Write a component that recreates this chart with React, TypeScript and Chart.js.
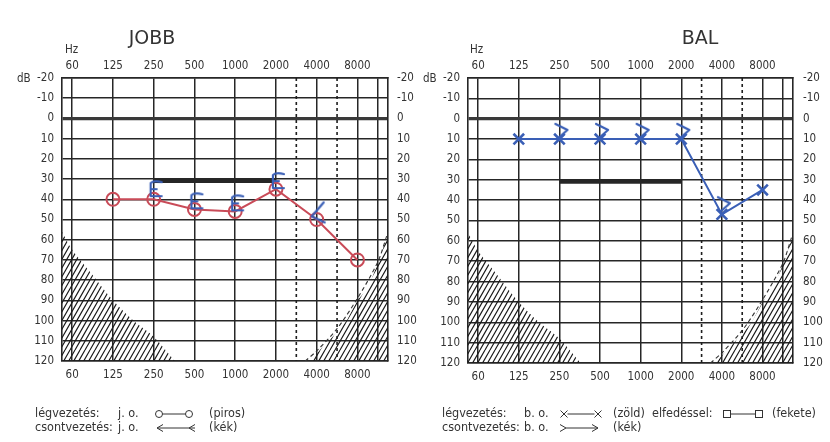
import React, { useEffect, useRef } from 'react';
import { Chart, registerables } from 'chart.js';

Chart.register(...registerables);

// ---------- data ----------
const FREQ_LABELS = ['60', '125', '250', '500', '1000', '2000', '4000', '8000'];
const DB_TICKS = [-20, -10, 0, 10, 20, 30, 40, 50, 60, 70, 80, 90, 100, 110, 120];

// JOBB (right ear)
const JOBB_AIR_FREQ = ['125', '250', '500', '1000', '2000', '4000', '8000'];
const JOBB_AIR_DB = [40, 40, 45, 46, 35, 50, 70];
const JOBB_BONE_FREQ = ['250', '500', '1000', '2000', '4000'];
const JOBB_BONE_DB = [35, 41, 42, 31, 47];

// BAL (left ear)
const BAL_AIR_FREQ = ['125', '250', '500', '1000', '2000', '4000', '8000'];
const BAL_AIR_DB = [10, 10, 10, 10, 10, 47, 35];
const BAL_BONE_FREQ = ['250', '500', '1000', '2000', '4000'];
const BAL_BONE_DB = [6, 6, 6, 6, 42];

// masking level bar
const MASK_FREQ = ['250', '2000'];
const MASK_DB = 31;

// hatched (out-of-range) zones, x in octaves relative to 125 Hz
const HATCH_LOW_OCT = [-1.25, -1, -0.56, 0, 0.5, 1, 1.52];
const HATCH_LOW_DB = [56, 65, 76, 90, 100, 108, 120];
const HATCH_HIGH_OCT = [4.84, 5.15, 5.49, 5.74, 6.0, 6.26, 6.55, 6.75];
const HATCH_HIGH_DB = [120, 113, 106, 100, 90, 84, 69, 57];
const HATCH_EDGE_OCT = [4.72, 5.0, 5.5, 6.0, 6.5, 6.72];
const HATCH_EDGE_DB = [120, 115, 104, 89, 71, 58];

// dotted half-octave lines (3000 Hz, 6000 Hz) and extra grid line
const DOTTED_OCT = [4.5, 5.5];
const EXTRA_GRID_OCT = [6.5];

// ---------- style ----------
const W = 830;
const H = 442;
const FONT = "'DejaVu Sans Condensed', 'DejaVu Sans', sans-serif";
const TITLE_FONT = "'DejaVu Sans', sans-serif";
const TEXT = '#333333';
const GRID = '#262626';
const RED = '#c94b58';
const BLUE = '#3a5fb6';

const octaveOf = (f: string) => FREQ_LABELS.indexOf(f) - 1;
const xLabel = (v: number) => {
  const i = Math.round(v) + 1;
  if (Math.abs(v - Math.round(v)) > 0.01) return '';
  return FREQ_LABELS[i] ?? '';
};

function makeHatch(ctx: CanvasRenderingContext2D) {
  const c = document.createElement('canvas');
  c.width = 40;
  c.height = 70;
  const g = c.getContext('2d')!;
  g.strokeStyle = '#1a1a1a';
  g.lineWidth = 1.15;
  g.beginPath();
  for (let k = -10; k <= 10; k++) {
    g.moveTo(k * 5, 70);
    g.lineTo(k * 5 + 40, 0);
  }
  g.stroke();
  return ctx.createPattern(c, 'repeat')!;
}

function markerCanvas(draw: (g: CanvasRenderingContext2D) => void) {
  const c = document.createElement('canvas');
  c.width = 40;
  c.height = 40;
  const g = c.getContext('2d')!;
  g.translate(20, 20);
  g.strokeStyle = BLUE;
  g.lineWidth = 2.2;
  g.lineCap = 'round';
  g.lineJoin = 'round';
  draw(g);
  return c;
}

const bracketMarker = () =>
  markerCanvas((g) => {
    g.beginPath();
    g.moveTo(8, -7);
    g.quadraticCurveTo(0, -9, -3, -6);
    g.lineTo(-3, 7);
    g.lineTo(8, 7);
    g.moveTo(-3, 0);
    g.lineTo(3, 0);
    g.stroke();
  });

const lessMarker = () =>
  markerCanvas((g) => {
    g.beginPath();
    g.moveTo(7, -11);
    g.lineTo(-5, 3);
    g.lineTo(8, 9);
    g.stroke();
  });

const greaterMarker = () =>
  markerCanvas((g) => {
    g.beginPath();
    g.moveTo(-4, -7);
    g.lineTo(8, -1);
    g.lineTo(-1, 7);
    g.stroke();
  });

interface Panel {
  left: number;
  right: number;
  top: number;
  bottom: number;
  title: string;
  titleX: number;
  hzX: number;
  dbX: number;
  leftPad: number;
  rightPad: number;
  airFreq: string[];
  airDb: number[];
  airColor: string;
  airStyle: string;
  airRadius: number;
  boneFreq: string[];
  boneDb: number[];
  boneStyles: () => HTMLCanvasElement[];
  legend: (ctx: CanvasRenderingContext2D) => void;
}

function setText(ctx: CanvasRenderingContext2D, size: number, family = FONT) {
  ctx.font = `${size}px ${family}`;
  ctx.fillStyle = TEXT;
  ctx.textBaseline = 'middle';
  ctx.textAlign = 'left';
}

function symLine(ctx: CanvasRenderingContext2D, x1: number, x2: number, y: number) {
  ctx.beginPath();
  ctx.moveTo(x1, y);
  ctx.lineTo(x2, y);
  ctx.stroke();
}

function drawX(ctx: CanvasRenderingContext2D, x: number, y: number) {
  ctx.beginPath();
  ctx.moveTo(x - 3.5, y - 3.5);
  ctx.lineTo(x + 3.5, y + 3.5);
  ctx.moveTo(x + 3.5, y - 3.5);
  ctx.lineTo(x - 3.5, y + 3.5);
  ctx.stroke();
}

const LEG_Y1 = 414;
const LEG_Y2 = 428;

function legendJobb(ctx: CanvasRenderingContext2D) {
  setText(ctx, 12.5);
  ctx.strokeStyle = TEXT;
  ctx.lineWidth = 1;
  const y1 = LEG_Y1;
  const y2 = LEG_Y2;
  ctx.fillText('légvezetés:', 35, y1);
  ctx.fillText('j. o.', 118, y1);
  ctx.beginPath();
  ctx.arc(159, y1, 3.5, 0, Math.PI * 2);
  ctx.stroke();
  ctx.beginPath();
  ctx.arc(189, y1, 3.5, 0, Math.PI * 2);
  ctx.stroke();
  symLine(ctx, 162.5, 185.5, y1);
  ctx.fillText('(piros)', 209, y1);

  ctx.fillText('csontvezetés:', 35, y2);
  ctx.fillText('j. o.', 118, y2);
  ctx.beginPath();
  ctx.moveTo(163, y2 - 3.5);
  ctx.lineTo(157, y2);
  ctx.lineTo(163, y2 + 3.5);
  ctx.moveTo(157, y2);
  ctx.lineTo(195, y2);
  ctx.moveTo(195, y2 - 3.5);
  ctx.lineTo(189, y2);
  ctx.lineTo(195, y2 + 3.5);
  ctx.stroke();
  ctx.fillText('(kék)', 209, y2);
}

function legendBal(ctx: CanvasRenderingContext2D) {
  setText(ctx, 12.5);
  ctx.strokeStyle = TEXT;
  ctx.lineWidth = 1;
  const y1 = LEG_Y1;
  const y2 = LEG_Y2;
  ctx.fillText('légvezetés:', 442, y1);
  ctx.fillText('b. o.', 524, y1);
  drawX(ctx, 564, y1);
  drawX(ctx, 598, y1);
  symLine(ctx, 567.5, 594.5, y1);
  ctx.fillText('(zöld)', 613, y1);
  ctx.fillText('elfedéssel:', 652, y1);
  ctx.strokeRect(723.5, y1 - 3.5, 7, 7);
  ctx.strokeRect(755.5, y1 - 3.5, 7, 7);
  symLine(ctx, 730.5, 755.5, y1);
  ctx.fillText('(fekete)', 772, y1);

  ctx.fillText('csontvezetés:', 442, y2);
  ctx.fillText('b. o.', 524, y2);
  ctx.beginPath();
  ctx.moveTo(560, y2 - 3.5);
  ctx.lineTo(566, y2);
  ctx.lineTo(560, y2 + 3.5);
  ctx.moveTo(566, y2);
  ctx.lineTo(598, y2);
  ctx.moveTo(592, y2 - 3.5);
  ctx.lineTo(598, y2);
  ctx.lineTo(592, y2 + 3.5);
  ctx.stroke();
  ctx.fillText('(kék)', 613, y2);
}

const PANELS: Panel[] = [
  {
    left: 62, right: 388, top: 78, bottom: 361,
    title: 'JOBB', titleX: 152, hzX: 65, dbX: 17, leftPad: 8, rightPad: 9,
    airFreq: JOBB_AIR_FREQ, airDb: JOBB_AIR_DB, airColor: RED, airStyle: 'circle', airRadius: 6.5,
    boneFreq: JOBB_BONE_FREQ, boneDb: JOBB_BONE_DB,
    boneStyles: () => {
      const b = bracketMarker();
      return [b, b, b, b, lessMarker()];
    },
    legend: legendJobb,
  },
  {
    left: 468, right: 793, top: 78, bottom: 363,
    title: 'BAL', titleX: 700, hzX: 470, dbX: 423, leftPad: 8, rightPad: 10,
    airFreq: BAL_AIR_FREQ, airDb: BAL_AIR_DB, airColor: BLUE, airStyle: 'crossRot', airRadius: 7.5,
    boneFreq: BAL_BONE_FREQ, boneDb: BAL_BONE_DB,
    boneStyles: () => {
      const g = greaterMarker();
      return [g, g, g, g, g];
    },
    legend: legendBal,
  },
];

function buildConfig(p: Panel, ctx: CanvasRenderingContext2D): any {
  const hatch = makeHatch(ctx);
  const pts = (xs: number[], ys: number[]) => xs.map((x, i) => ({ x, y: ys[i] }));
  const xTicks = [...FREQ_LABELS.map((f) => octaveOf(f)), ...EXTRA_GRID_OCT];
  const tickFont = { family: FONT, size: 11.5 };

  const datasets: any[] = [
    {
      data: p.boneFreq.map((f, i) => ({ x: octaveOf(f), y: p.boneDb[i] })),
      showLine: false,
      pointStyle: p.boneStyles(),
      pointRadius: 10,
    },
    {
      data: p.airFreq.map((f, i) => ({ x: octaveOf(f), y: p.airDb[i] })),
      borderColor: p.airColor,
      borderWidth: 2,
      pointStyle: p.airStyle,
      pointRadius: p.airRadius,
      pointBorderWidth: p.airStyle === 'circle' ? 2 : 2.6,
      pointBorderColor: p.airColor,
      pointBackgroundColor: 'rgba(0,0,0,0)',
      tension: 0,
    },
    {
      data: MASK_FREQ.map((f) => ({ x: octaveOf(f), y: MASK_DB })),
      borderColor: '#262626',
      borderWidth: 4,
      pointRadius: 0,
    },
    ...DOTTED_OCT.map((o) => ({
      data: [{ x: o, y: -20 }, { x: o, y: 120 }],
      borderColor: '#1e1e1e',
      borderWidth: 1.6,
      borderDash: [3, 3],
      pointRadius: 0,
    })),
    {
      data: pts(HATCH_EDGE_OCT, HATCH_EDGE_DB),
      borderColor: '#333',
      borderWidth: 1.1,
      borderDash: [4, 3],
      pointRadius: 0,
      tension: 0.3,
    },
    {
      data: pts(HATCH_HIGH_OCT, HATCH_HIGH_DB),
      borderWidth: 0,
      borderColor: 'rgba(0,0,0,0)',
      backgroundColor: hatch,
      fill: { value: 120 },
      pointRadius: 0,
      tension: 0,
    },
    {
      data: pts(HATCH_LOW_OCT, HATCH_LOW_DB),
      borderWidth: 0,
      borderColor: 'rgba(0,0,0,0)',
      backgroundColor: hatch,
      fill: { value: 120 },
      pointRadius: 0,
      tension: 0.3,
    },
  ];

  const xScale = (position: 'top' | 'bottom', grid: boolean) => ({
    type: 'linear',
    position,
    min: -1.25,
    max: 6.75,
    afterBuildTicks: (s: any) => {
      s.ticks = xTicks.map((v) => ({ value: v }));
    },
    afterFit: (s: any) => {
      s.height = position === 'top' ? p.top : H - p.bottom;
    },
    ticks: {
      autoSkip: false,
      maxRotation: 0,
      padding: position === 'top' ? 5 : 7,
      color: TEXT,
      font: tickFont,
      callback: (v: number) => xLabel(v),
    },
    grid: { display: true, drawOnChartArea: grid, drawTicks: false, color: GRID, lineWidth: 1.5 },
    border: { display: true, color: GRID, width: 1.6 },
  });

  const yScale = (position: 'left' | 'right', grid: boolean) => ({
    type: 'linear',
    position,
    reverse: true,
    min: -20,
    max: 120,
    afterBuildTicks: (s: any) => {
      s.ticks = DB_TICKS.map((v) => ({ value: v }));
    },
    afterFit: (s: any) => {
      s.width = position === 'left' ? p.left : W - p.right;
    },
    ticks: {
      padding: position === 'left' ? p.leftPad : p.rightPad,
      color: TEXT,
      font: tickFont,
      callback: (v: number) => String(v),
    },
    grid: {
      display: true,
      drawOnChartArea: grid,
      drawTicks: false,
      color: (c: any) => (c.tick && c.tick.value === 0 ? '#3a3a3a' : GRID),
      lineWidth: (c: any) => (c.tick && c.tick.value === 0 ? 3.2 : 1.5),
    },
    border: { display: true, color: GRID, width: 1.6 },
  });

  const textPlugin = {
    id: 'texts' + p.title,
    afterDraw(chart: any) {
      const c: CanvasRenderingContext2D = chart.ctx;
      c.save();
      setText(c, 19, TITLE_FONT);
      c.textAlign = 'center';
      c.fillText(p.title, p.titleX, 39);
      setText(c, 11.5);
      c.fillText('Hz', p.hzX, 50);
      c.fillText('dB', p.dbX, 79);
      p.legend(c);
      c.restore();
    },
  };

  return {
    type: 'line',
    data: { datasets },
    options: {
      animation: false,
      responsive: false,
      maintainAspectRatio: false,
      layout: { padding: 0 },
      plugins: { legend: { display: false }, tooltip: { enabled: false } },
      scales: {
        x: xScale('top', true),
        x2: xScale('bottom', false),
        y: yScale('left', true),
        y2: yScale('right', false),
      },
    },
    plugins: [textPlugin],
  };
}

function Panel({ panel }: { panel: Panel }) {
  const ref = useRef<HTMLCanvasElement>(null);
  useEffect(() => {
    const canvas = ref.current!;
    const ctx = canvas.getContext('2d')!;
    const chart = new Chart(ctx, buildConfig(panel, ctx));
    return () => chart.destroy();
  }, [panel]);
  return (
    <canvas
      ref={ref}
      width={W}
      height={H}
      style={{ position: 'absolute', left: 0, top: 0, width: W, height: H }}
    />
  );
}

export default function App() {
  return (
    <div
      style={{
        position: 'absolute',
        left: 0,
        top: 0,
        width: W,
        height: H,
        background: '#ffffff',
        overflow: 'hidden',
      }}
    >
      {PANELS.map((p) => (
        <Panel key={p.title} panel={p} />
      ))}
    </div>
  );
}
